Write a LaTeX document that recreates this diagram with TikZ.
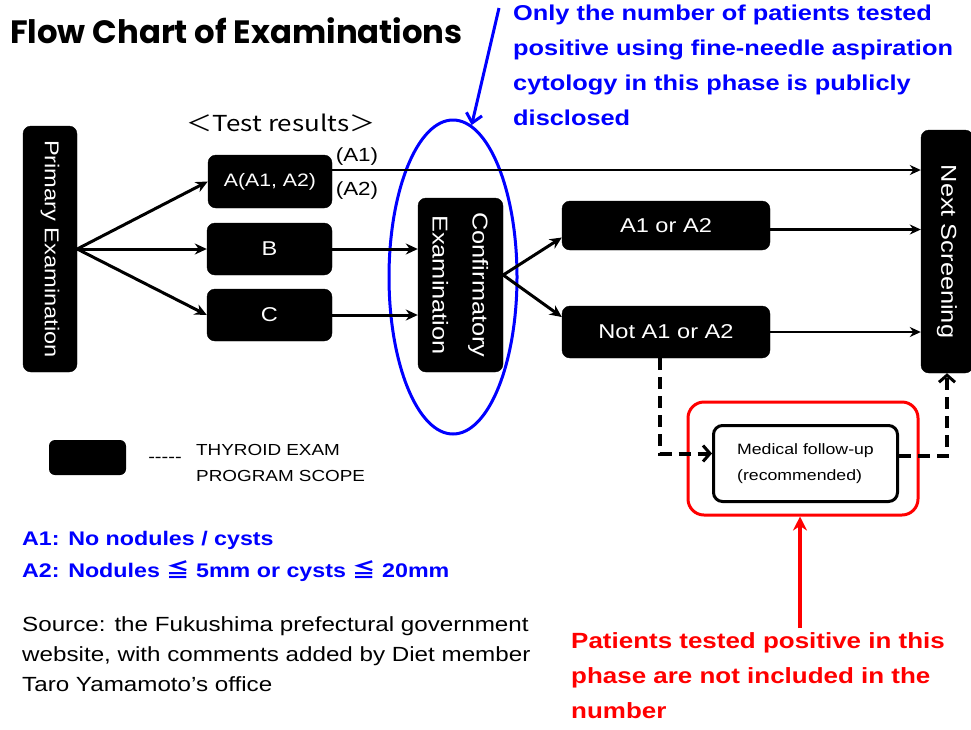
\documentclass[tikz,border=0pt]{standalone}
\usepackage{graphicx}
\usepackage{fontspec}
\setmainfont{Liberation Sans}[FakeStretch=1.18]
\newfontfamily\titlefont{Poppins}
\newfontfamily\cjkfont{Noto Sans CJK JP}[FakeStretch=1.18]
\usetikzlibrary{arrows.meta,shapes.geometric}

\begin{document}
\begin{tikzpicture}[x=1pt,y=-1pt,
  blackbox/.style={fill=black, draw=black, rounded corners=8pt, text=white, inner sep=0pt,
    font=\fontsize{20}{22}\selectfont},
  flow/.style={line width=3pt, -{Stealth[length=12pt,width=11pt]}},
  thinflow/.style={line width=2.2pt, -{Stealth[length=11pt,width=10pt]}},
  dashflow/.style={line width=4pt, dash pattern=on 12pt off 7pt,
    -{Straight Barb[length=7pt,width=16pt,line width=3pt]}},
  bluetext/.style={text=blue, font=\bfseries\fontsize{21.5}{35}\selectfont, align=left, inner sep=0pt},
  redtext/.style={text=red, font=\bfseries\fontsize{22}{35}\selectfont, align=left, inner sep=0pt},
]
\useasboundingbox (0,0) rectangle (971,729);

% title
\node[anchor=west, inner sep=0pt, font=\titlefont\bfseries\fontsize{32.3}{34}\selectfont] (title) at (10,31) {Flow Chart of Examinations};

% test results header
\node[font=\cjkfont\fontsize{22}{24}\selectfont, inner sep=0pt] (hdr) at (281,123) {＜Test results＞};

% main boxes
\node[blackbox, minimum width=54pt, minimum height=246pt] (prim) at (50,249)
  {\rotatebox{-90}{Primary\ Examination}};
\node[blackbox, minimum width=124pt, minimum height=53pt, font=\fontsize{18}{20}\selectfont] (ra) at (270,181.5) {A(A1, A2)};
\node[blackbox, minimum width=125pt, minimum height=52pt] (rb) at (269.5,249) {B};
\node[blackbox, minimum width=125pt, minimum height=52pt] (rc) at (269.5,315) {C};
\node[blackbox, minimum width=85pt, minimum height=174pt, font=\fontsize{21.5}{40}\selectfont] (conf) at (460.5,285)
  {\rotatebox{-90}{\begin{tabular}{@{}c@{}}Confirmatory\\Examination\end{tabular}}};
\node[blackbox, minimum width=208pt, minimum height=49pt] (ok) at (666,225.5) {A1 or A2};
\node[blackbox, minimum width=208pt, minimum height=52pt] (nok) at (666,332) {Not A1 or A2};
\node[blackbox, minimum width=52pt, minimum height=243pt, font=\fontsize{21.5}{24}\selectfont] (next) at (947,251.5)
  {\rotatebox{-90}{Next Screening}};

% follow-up box and its red frame
\node[draw=black, line width=3pt, rounded corners=9pt, minimum width=184pt, minimum height=76pt,
  align=left, font=\fontsize{15}{26}\selectfont, inner sep=0pt] (med) at (805.5,463.5)
  {Medical follow-up\\(recommended)};
\node[draw=red, line width=3pt, rounded corners=16pt, minimum width=230pt, minimum height=113pt] (frame) at (803,458.5) {};

% blue ellipse around the confirmatory examination
\node[draw=blue, line width=3pt, ellipse, minimum width=128pt, minimum height=314pt] (ell) at (453,277) {};

% labels on the A branch
\node[font=\fontsize{19}{22}\selectfont, inner sep=0pt] (la1) at (357,157) {(A1)};
\node[font=\fontsize{19}{22}\selectfont, inner sep=0pt] (la2) at (357,191) {(A2)};

% connectors
\draw[flow] (prim.east) -- (ra.west);
\draw[flow] (prim.east) -- (rb.west);
\draw[flow] (prim.east) -- (rc.west);
\draw[thinflow] ([yshift=11.5pt]ra.east) -- ([yshift=11.5pt]ra.east -| next.west);
\draw[flow] (rb.east) -- (rb.east -| conf.west);
\draw[flow] (rc.east) -- (rc.east -| conf.west);
\draw[flow] ([yshift=10pt]conf.east) -- ([yshift=-12pt]ok.west);
\draw[flow] ([yshift=10pt]conf.east) -- ([yshift=15pt]nok.west);
\draw[thinflow] ([yshift=-4pt]ok.east) -- ([yshift=-4pt]ok.east -| next.west);
\draw[thinflow] (nok.east) -- (nok.east -| next.west);
\draw[dashflow] ([xshift=-6pt]nok.south) |- ([yshift=10pt]med.west);
\draw[dashflow] ([yshift=8pt]med.east) -| (next.south);

% annotation arrows
\coordinate (bluetail) at (499,8);
\draw[blue, line width=3pt, -{Straight Barb[length=9pt,width=16pt,line width=3pt]}] (bluetail) -- (ell.83);
\coordinate (redtail) at (800,628);
\draw[red, line width=3.5pt, -{Stealth[length=14pt,width=14pt]}] (redtail) -- (redtail |- frame.south);

% annotation texts
\node[bluetext, anchor=north west] (blnote) at (513,5)
  {Only the number of patients tested\\positive using fine-needle aspiration\\cytology in this phase is publicly\\disclosed};
\node[redtext, anchor=north west] (rednote) at (571,632)
  {Patients tested positive in this\\phase are not included in the\\number};

% legend
\node[fill=black, rounded corners=6pt, minimum width=77pt, minimum height=35pt, inner sep=0pt] (legbox) at (87.5,457.5) {};
\node[font=\fontsize{17}{18}\selectfont, inner sep=0pt] (legdash) at (165,460) {{-}{-}{-}{-}{-}};
\node[anchor=west, align=left, font=\fontsize{16}{26}\selectfont, inner sep=0pt] (legtext) at (196,463)
  {THYROID EXAM\\PROGRAM SCOPE};

% definitions of A1 and A2
\node[bluetext, anchor=west, font=\bfseries\fontsize{19.7}{32}\selectfont] (defs) at (22,556)
  {A1: No nodules / cysts\\A2: Nodules {\cjkfont ≦} 5mm or cysts {\cjkfont ≦} 20mm};

% source note
\node[anchor=north west, align=left, inner sep=0pt, font=\fontsize{20.5}{30}\selectfont] (src) at (22,616)
  {Source: the Fukushima prefectural government\\website, with comments added by Diet member\\Taro Yamamoto's office};
\end{tikzpicture}
\end{document}
